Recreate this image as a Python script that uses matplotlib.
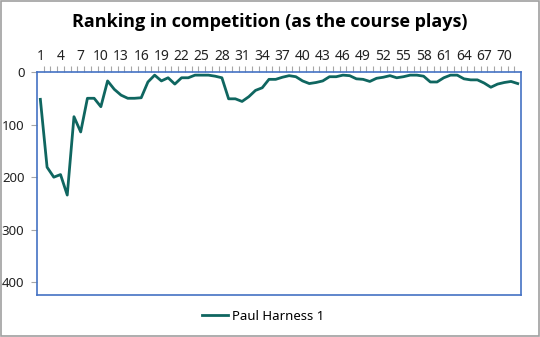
#!/usr/bin/env python3
# -*- coding: utf-8 -*-
"""
Ranking in competition chart.
"""

import matplotlib
matplotlib.use('Agg')
import matplotlib.pyplot as plt
from matplotlib.patches import Rectangle
from matplotlib.ticker import FixedLocator

plt.rcParams['font.family'] = ['Noto Sans', 'DejaVu Sans']

TITLE = 'Ranking in competition (as the course plays)'
SERIES = 'Paul Harness 1'

rounds = list(range(1, 73))
ranking = [
    52, 181, 200, 195, 234, 85, 114, 50, 50, 66,
    17, 33, 44, 50, 50, 49, 19, 6, 17, 11,
    23, 11, 11, 6, 6, 6, 8, 11, 51, 51,
    56, 47, 35, 30, 14, 14, 10, 7, 9, 17,
    22, 20, 17, 9, 9, 6, 7, 13, 14, 18,
    12, 10, 7, 11, 9, 6, 6, 8, 19, 19,
    11, 6, 6, 13, 15, 15, 21, 29, 23, 20,
    18, 22,
]
y_ticks = [0, 100, 200, 300, 400]

BLUE = '#4472c4'
TEAL = '#0f6660'
GREY = '#a6a6a6'

fig = plt.figure(figsize=(5.4, 3.37), dpi=100)
fig.patches.append(Rectangle((0.001, 0.002), 0.997, 0.995, transform=fig.transFigure,
                             fill=False, edgecolor='#a0a0a0', linewidth=1.2))

ax = fig.add_axes([0.0685, 0.1246, 0.8965, 0.6618])
ax.plot(rounds, ranking, color=TEAL, linewidth=2, label=SERIES)

ax.set_xlim(0.5, 72.5)
ax.set_ylim(424, 0)
ax.xaxis.tick_top()
ax.set_xticks(rounds[::3])
ax.xaxis.set_minor_locator(FixedLocator([r + 0.5 for r in rounds[:-1]]))
ax.tick_params(axis='x', which='major', length=0, pad=6, labelsize=10, colors='#222222')
ax.tick_params(axis='x', which='minor', length=4, color=GREY, width=0.8)
ax.set_yticks(y_ticks)
ax.tick_params(axis='y', length=4, color=GREY, width=0.8, pad=5, labelsize=9.5,
               labelcolor='#222222')

for sp in ax.spines.values():
    sp.set_color(BLUE)
    sp.set_linewidth(1.2)

fig.text(0.5, 0.935, TITLE, ha='center', va='center', fontsize=13, fontweight='bold',
         family=['Open Sans', 'DejaVu Sans'])

fig.legend(loc='center', bbox_to_anchor=(0.487, 0.062), frameon=False, fontsize=9.5,
           handlelength=2.0, handletextpad=0.3)

fig.savefig('out.png', dpi=100)
